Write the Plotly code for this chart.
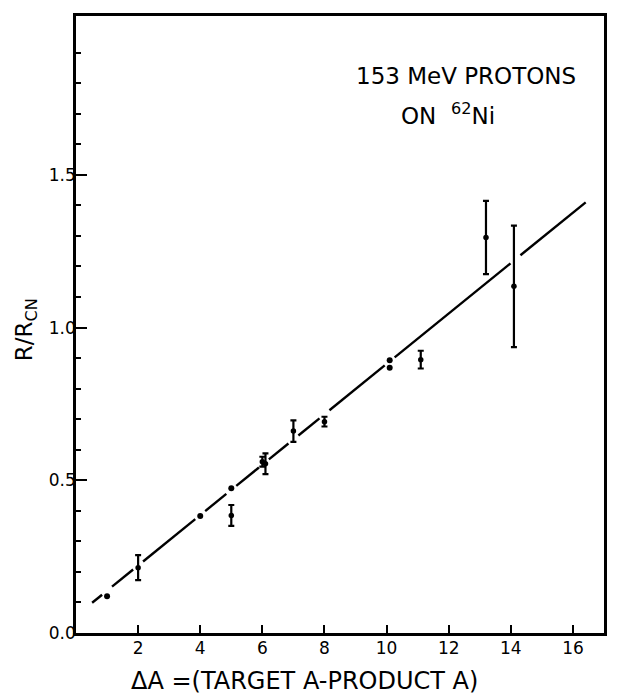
import plotly.graph_objects as go

# ---- data ----
# points with error bars
dA_err = [2, 5, 6.0, 6.1, 7, 8, 11.1, 13.2, 14.1]
ratio_err = [0.214, 0.385, 0.561, 0.554, 0.661, 0.692, 0.895, 1.295, 1.135]
sigma = [0.041, 0.034, 0.016, 0.034, 0.035, 0.016, 0.029, 0.12, 0.199]

# points without error bars
dA_pt = [1, 4, 5, 10.1, 10.1]
ratio_pt = [0.12, 0.383, 0.474, 0.893, 0.868]

# straight-line fit drawn through the data (with gaps at the symbols)
fit_slope = 0.0825
fit_intercept = 0.056
fit_x_range = [0.52, 16.41]
fit_gaps = [1.0, 2.0, 4.0, 5.0, 6.05, 7.0, 8.0, 10.1, 14.15]
gap_half = 0.16

x_ticks = [2, 4, 6, 8, 10, 12, 14, 16]
y_ticks = [0.0, 0.5, 1.0, 1.5]
y_tick_text = ["0.0", "0.5", "1.0", "1.5"]
y_minor = [0.1, 0.2, 0.3, 0.4, 0.6, 0.7, 0.8, 0.9, 1.1, 1.2, 1.3, 1.4, 1.6, 1.7, 1.8, 1.9]

FONT = "DejaVu Sans"

# build line with gaps
lx = [fit_x_range[0]]
for g in fit_gaps:
    lx += [g - gap_half, None, g + gap_half]
lx.append(fit_x_range[1])
ly = [None if v is None else fit_intercept + fit_slope * v for v in lx]

fig = go.Figure()
fig.add_trace(go.Scatter(x=lx, y=ly, mode="lines",
                         line=dict(color="black", width=2.4),
                         connectgaps=False, hoverinfo="skip"))
fig.add_trace(go.Scatter(x=dA_err, y=ratio_err, mode="markers",
                         marker=dict(color="black", size=5.5),
                         error_y=dict(type="data", array=sigma, visible=True,
                                      color="black", thickness=2.2, width=3)))
fig.add_trace(go.Scatter(x=dA_pt, y=ratio_pt, mode="markers",
                         marker=dict(color="black", size=6)))

fig.update_layout(
    width=618, height=696,
    margin=dict(l=76, r=14, t=16, b=63),
    paper_bgcolor="white", plot_bgcolor="white",
    showlegend=False,
    font=dict(family=FONT, color="black", size=17),
    xaxis=dict(range=[0, 17], tickvals=x_ticks, ticktext=[str(v) for v in x_ticks],
               ticks="inside", ticklen=8, tickwidth=2, tickcolor="black",
               showline=True, linecolor="black", linewidth=2.5, mirror=True,
               showgrid=False, zeroline=False,
               tickfont=dict(family=FONT, size=17, color="black"),
               ticklabelstandoff=-2),
    yaxis=dict(range=[0, 2.02], tickvals=y_ticks, ticktext=y_tick_text,
               ticks="inside", ticklen=11, tickwidth=2, tickcolor="black",
               minor=dict(tickvals=y_minor, ticks="inside", ticklen=5,
                          tickwidth=2, tickcolor="black", showgrid=False),
               showline=True, linecolor="black", linewidth=2.5, mirror=True,
               showgrid=False, zeroline=False,
               tickfont=dict(family=FONT, size=17, color="black"),
               ticklabelstandoff=-6),
)

fig.add_annotation(x=12.57, y=1.823, xref="x", yref="y", showarrow=False,
                   text="153 MeV PROTONS",
                   font=dict(family=FONT, size=23, color="black"),
                   xanchor="center", yanchor="middle")
fig.add_annotation(x=11.99, y=1.699, xref="x", yref="y", showarrow=False,
                   text="ON  <sup>62</sup>Ni",
                   font=dict(family=FONT, size=23, color="black"),
                   xanchor="center", yanchor="middle")
fig.add_annotation(x=-0.0945, y=0.491, xref="paper", yref="paper", showarrow=False,
                   text="R/R<sub>CN</sub>", textangle=-90,
                   font=dict(family=FONT, size=23, color="black"),
                   xanchor="center", yanchor="middle")
fig.add_annotation(x=0.433, y=-0.078, xref="paper", yref="paper", showarrow=False,
                   text="ΔA =(TARGET A-PRODUCT A)",
                   font=dict(family=FONT, size=24, color="black"),
                   xanchor="center", yanchor="middle")

fig.write_html("out.html")
